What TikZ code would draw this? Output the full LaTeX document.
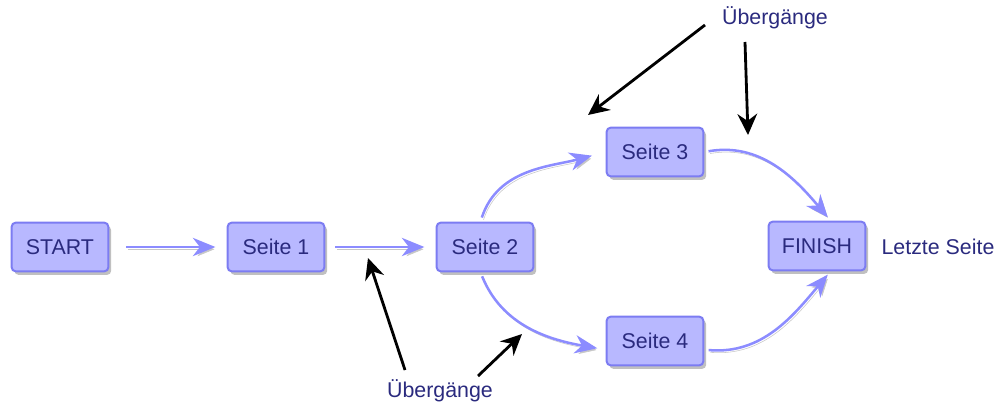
\documentclass[tikz,border=0pt]{standalone}
\usepackage{fontspec}
\setmainfont{Liberation Sans}
\usetikzlibrary{positioning, arrows.meta, shadows}
\definecolor{pagefill}{HTML}{B8B8FF}
\definecolor{pageline}{HTML}{7C7CF2}
\definecolor{pagetext}{HTML}{2A2A7E}
\definecolor{flowblue}{HTML}{8C8CFF}
\tikzset{
  % --- page boxes ---
  pagebox/.style={draw=pageline, fill=pagefill, line width=1.4pt, rounded corners=3pt,
    minimum width=2.42cm, minimum height=1.22cm, text=pagetext,
    font=\fontsize{15.2}{17}\selectfont,
    drop shadow={shadow xshift=2pt, shadow yshift=-2.5pt, fill=black!45, opacity=0.55}},
  note/.style={text=pagetext, font=\fontsize{15.2}{17}\selectfont, inner sep=1pt},
  % --- connectors ---
  transit/.style={draw=flowblue, line width=1.8pt,
    -{Stealth[length=16pt, width=13pt, inset=5pt]},
    preaction={draw=black!22, transform canvas={xshift=1.2pt, yshift=-1.6pt}}},
  hint/.style={draw=black, line width=2pt, -{Stealth[length=15pt, width=14pt, inset=5pt]}},
}

\begin{document}
\begin{tikzpicture}[x=0.025cm, y=-0.025cm]
    \useasboundingbox (0,0) rectangle (1002,407);
    % pages
    \node[pagebox] (start) at (60,247)  {START};
    \node[pagebox] (s1)    at (276,247) {Seite 1};
    \node[pagebox] (s2)    at (485,247) {Seite 2};
    \node[pagebox] (s3)    at (655,152) {Seite 3};
    \node[pagebox] (s4)    at (655,341) {Seite 4};
    \node[pagebox] (fin)   at (817,246) {FINISH};
    % labels
    \node[note] (last)  at (938,247) {Letzte Seite};
    \node[note] (ubtop) at (775,18)  {Übergänge};
    \node[note] (ubbot) at (440,391) {Übergänge};
    % transitions
    \draw[transit, shorten <=12pt, shorten >=8pt] (start) -- (s1);
    \draw[transit, shorten <=7pt, shorten >=8pt] (s1) -- (s2);
    \draw[transit, shorten <=3pt, shorten >=10pt] (s2.100) to[out=72, in=195] (s3.west);
    \draw[transit, shorten <=3pt, shorten >=3pt] (s3.east) to[out=10, in=130] (fin.62);
    \draw[transit, shorten <=3pt, shorten >=6pt] (s2.260) to[out=-68, in=170] (s4.190);
    \draw[transit, shorten <=3pt, shorten >=3pt] (s4.-10) to[out=-5, in=-130] (fin.-62);
    % pointers to the transitions
    \coordinate (p1a) at (705,25);  \coordinate (p1b) at (588,115);
    \coordinate (p2a) at (745,42);  \coordinate (p2b) at (748,135);
    \coordinate (p3a) at (405,370); \coordinate (p3b) at (368,258);
    \coordinate (p4a) at (478,376); \coordinate (p4b) at (522,334);
    \draw[hint] (p1a) -- (p1b);
    \draw[hint] (p2a) -- (p2b);
    \draw[hint] (p3a) -- (p3b);
    \draw[hint] (p4a) -- (p4b);
\end{tikzpicture}
\end{document}
